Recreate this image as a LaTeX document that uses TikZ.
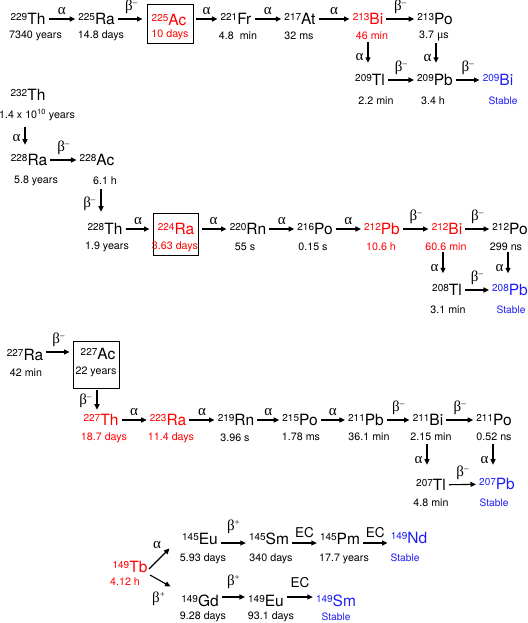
\documentclass[tikz,border=0pt]{standalone}
\usepackage{fontspec}
\setmainfont{TeX Gyre Heros}
\newfontfamily\grk{Liberation Serif}
\usetikzlibrary{arrows.meta}
\definecolor{nred}{RGB}{255,0,0}
\definecolor{nblue}{RGB}{30,30,245}
\newcommand{\nuc}[2]{\raisebox{4pt}{\fontsize{10}{10}\selectfont #1}#2}
\newcommand{\alp}{{\grk α}}
\newcommand{\betam}{{\grk β}\raisebox{5pt}{\fontsize{9}{9}\selectfont –}}
\newcommand{\betap}{{\grk β}\raisebox{5pt}{\fontsize{9}{9}\selectfont +}}
\begin{document}
\begin{tikzpicture}[x=1pt,y=-1pt,
  el/.style={font=\fontsize{15.5}{15.5}\selectfont, text height=11pt, text depth=0pt, inner sep=1pt},
  hl/.style={font=\fontsize{10.7}{11}\selectfont, inner sep=1pt},
  st/.style={font=\fontsize{10.2}{11}\selectfont, inner sep=1pt, text=nblue},
  rd/.style={text=nred},
  bl/.style={text=nblue},
  bx/.style={draw, line width=0.9pt, inner sep=0pt},
  arr/.style={line width=1.1pt, -{Triangle[length=5.5pt,width=5pt]}, shorten <=2pt, shorten >=2pt},
  darr/.style={line width=1.1pt, -{Triangle[length=5.5pt,width=5pt]}},
  lab/.style={font=\grk\fontsize{15}{15}\selectfont, inner sep=0pt},
  la/.style={lab, above=3.5pt},
  lb/.style={lab, above=4.5pt},
  lv/.style={lab, left=4pt},
  lbv/.style={lab, left=5pt},
  ec/.style={font=\fontsize{13.5}{13.5}\selectfont, inner sep=0pt, above=4.5pt},
]
\useasboundingbox (0,0) rectangle (527,623);

% ---------- chain 1 (229Th) ----------
\node[el] (th229) at (28,19) {\nuc{229}{Th}};
\node[hl] (hth229) at (35.5,36) {7340 years};
\node[el] (ra225) at (96.5,19) {\nuc{225}{Ra}};
\node[hl] (hra225) at (101,36) {14.8 days};
\node[bx, minimum width=46pt, minimum height=39pt] (bx1) at (170,23.5) {};
\node[el,rd] (ac225) at (169,20) {\nuc{225}{Ac}};
\node[hl,rd] (hac225) at (170,35) {10 days};
\node[el] (fr221) at (236,19) {\nuc{221}{Fr}};
\node[hl] (hfr221) at (238,36) {4.8\ \ min};
\node[el] (at217) at (300,19) {\nuc{217}{At}};
\node[hl] (hat217) at (299,36) {32 ms};
\node[el,rd] (bi213) at (368,19) {\nuc{213}{Bi}};
\node[hl,rd] (hbi213) at (372,36) {46 min};
\node[el] (po213) at (435,19) {\nuc{213}{Po}};
\node[hl] (hpo213) at (434,36) {3.7 {\grk\fontsize{12}{12}\selectfont μ}s};
\node[el] (tl209) at (370,80) {\nuc{209}{Tl}};
\node[hl] (htl209) at (376,101) {2.2 min};
\node[el] (pb209) at (435,80) {\nuc{209}{Pb}};
\node[hl] (hpb209) at (433,101) {3.4 h};
\node[el,bl] (bi209) at (498,80) {\nuc{209}{Bi}};
\node[st] (hbi209) at (503,101) {Stable};

\draw[arr] (th229) -- node[la]{\alp} (ra225);
\draw[arr,shorten >=4pt] (ra225.east) -- node[lb]{\betam} (bx1.west |- ra225.east);
\draw[arr,shorten <=3pt] (bx1.east |- fr221.west) -- node[la]{\alp} (fr221.west);
\draw[arr] (fr221) -- node[la]{\alp} (at217);
\draw[arr] (at217) -- node[la]{\alp} (bi213);
\draw[arr] (bi213) -- node[lb]{\betam} (po213);
\draw[darr,shorten <=0.5pt,shorten >=10.5pt] (bi213 |- hbi213.south) -- node[lv]{\alp} (bi213 |- tl209.north);
\draw[darr,shorten <=0.5pt,shorten >=10.5pt] ([xshift=1pt]po213 |- hpo213.south) -- node[lv]{\alp} ([xshift=1pt]po213 |- pb209.north);
\draw[arr] (tl209) -- node[lb]{\betam} (pb209);
\draw[arr] (pb209) -- node[lb]{\betam} (bi209);

% ---------- chain 2 (232Th) ----------
\node[el] (th232) at (28,95) {\nuc{232}{Th}};
\node[hl] (hth232) at (37,115) {1.4 x 10\textsuperscript{10} years};
\node[el] (ra228) at (29,160) {\nuc{228}{Ra}};
\node[hl] (hra228) at (36,181) {5.8 years};
\node[el] (ac228) at (97,160) {\nuc{228}{Ac}};
\node[hl] (hac228) at (105,181) {6.1 h};
\node[el] (th228) at (105,229) {\nuc{228}{Th}};
\node[hl] (hth228) at (107,247) {1.9 years};
\node[bx, minimum width=45pt, minimum height=42pt] (bx2) at (175.5,234) {};
\node[el,rd] (ra224) at (176,229) {\nuc{224}{Ra}};
\node[hl,rd] (hra224) at (175,247) {3.63 days};
\node[el] (rn220) at (248,229) {\nuc{220}{Rn}};
\node[hl] (hrn220) at (245,247) {55 s};
\node[el] (po216) at (315,229) {\nuc{216}{Po}};
\node[hl] (hpo216) at (313,247) {0.15 s};
\node[el,rd] (pb212) at (382,229) {\nuc{212}{Pb}};
\node[hl,rd] (hpb212) at (381,247) {10.6 h};
\node[el,rd] (bi212) at (447,229) {\nuc{212}{Bi}};
\node[hl,rd] (hbi212) at (446,247) {60.6 min};
\node[el] (po212) at (510,229) {\nuc{212}{Po}};
\node[hl] (hpo212) at (506,247) {299 ns};
\node[el] (tl208) at (447,290) {\nuc{208}{Tl}};
\node[hl] (htl208) at (448,310) {3.1 min};
\node[el,bl] (pb208) at (510,290) {\nuc{208}{Pb}};
\node[st] (hpb208) at (511,310) {Stable};

\draw[darr,shorten <=5pt,shorten >=8.6pt] ([xshift=-3pt]th232 |- hth232.south) -- node[lv]{\alp} ([xshift=-3pt]th232 |- ra228.north);
\draw[arr] (ra228) -- node[lb]{\betam} (ac228);
\draw[darr,shorten <=3pt,shorten >=10.6pt] ([xshift=4pt]ac228 |- hac228.south) -- node[lbv]{\betam} ([xshift=4pt]ac228 |- th228.north);
\draw[arr,shorten >=3pt] (th228.east) -- node[la]{\alp} (bx2.west |- th228.east);
\draw[arr,shorten <=4pt] (bx2.east |- rn220.west) -- node[la]{\alp} (rn220.west);
\draw[arr] (rn220) -- node[la]{\alp} (po216);
\draw[arr] (po216) -- node[la]{\alp} (pb212);
\draw[arr] (pb212) -- node[lb]{\betam} (bi212);
\draw[arr] (bi212) -- node[lb]{\betam} (po212);
\draw[darr,shorten <=0pt,shorten >=10pt] ([xshift=-4pt]bi212 |- hbi212.south) -- node[lv]{\alp} ([xshift=-4pt]bi212 |- tl208.north);
\draw[darr,shorten <=0pt,shorten >=10pt] ([xshift=-2pt]po212 |- hpo212.south) -- node[lv]{\alp} ([xshift=-2pt]po212 |- pb208.north);
\draw[arr] (tl208) -- node[lb]{\betam} (pb208);

% ---------- chain 3 (227Ac) ----------
\node[el] (ra227) at (25,355) {\nuc{227}{Ra}};
\node[hl] (hra227) at (26,373) {42 min};
\node[bx, minimum width=46pt, minimum height=47pt] (bx3) at (96,364.5) {};
\node[el] (ac227) at (98,354) {\nuc{227}{Ac}};
\node[hl] (hac227) at (96,372) {22 years};
\node[el,rd] (th227) at (101,420) {\nuc{227}{Th}};
\node[hl,rd] (hth227) at (104,438) {18.7 days};
\node[el,rd] (ra223) at (168,420) {\nuc{223}{Ra}};
\node[hl,rd] (hra223) at (171,438) {11.4 days};
\node[el] (rn219) at (236,420) {\nuc{219}{Rn}};
\node[hl] (hrn219) at (235,438) {3.96 s};
\node[el] (po215) at (300,420) {\nuc{215}{Po}};
\node[hl] (hpo215) at (301,437) {1.78 ms};
\node[el] (pb211) at (366,420) {\nuc{211}{Pb}};
\node[hl] (hpb211) at (369,437) {36.1 min};
\node[el] (bi211) at (428,420) {\nuc{211}{Bi}};
\node[hl] (hbi211) at (431,437) {2.15 min};
\node[el] (po211) at (494,420) {\nuc{211}{Po}};
\node[hl] (hpo211) at (494,437) {0.52 ns};
\node[el] (tl207) at (431,485) {\nuc{207}{Tl}};
\node[hl] (htl207) at (431,503) {4.8 min};
\node[el,bl] (pb207) at (497,484) {\nuc{207}{Pb}};
\node[st] (hpb207) at (494,503) {Stable};

\draw[arr,shorten >=3pt] ([yshift=3pt]ra227.east) -- node[lb]{\betam} ([yshift=3pt]bx3.west |- ra227.east);
\draw[darr,shorten <=1.5pt,shorten >=3.6pt] ([xshift=1pt]bx3.south) -- node[lbv]{\betam} ([xshift=1pt]bx3.south |- th227.north);
\draw[arr] (th227) -- node[la]{\alp} (ra223);
\draw[arr] (ra223) -- node[la]{\alp} (rn219);
\draw[arr] (rn219) -- node[la]{\alp} (po215);
\draw[arr] (po215) -- node[la]{\alp} (pb211);
\draw[arr] (pb211) -- node[lb]{\betam} (bi211);
\draw[arr] (bi211) -- node[lb]{\betam} (po211);
\draw[darr,shorten <=1.5pt,shorten >=13.6pt] ([xshift=-1pt]bi211 |- hbi211.south) -- node[lv]{\alp} ([xshift=-1pt]bi211 |- tl207.north);
\draw[darr,shorten <=1.5pt,shorten >=12.6pt] ([xshift=-1pt]po211 |- hpo211.south) -- node[lv]{\alp} ([xshift=-1pt]po211 |- pb207.north);
\draw[arr] (tl207) -- node[lb]{\betam} (pb207);

% ---------- chain 4 (149Tb) ----------
\node[el,rd] (tb149) at (130,567) {\nuc{149}{Tb}};
\node[hl,rd] (htb149) at (125,582) {4.12 h};
\node[el] (eu145) at (200,539) {\nuc{145}{Eu}};
\node[hl] (heu145) at (203,559) {5.93 days};
\node[el] (sm145) at (269,539) {\nuc{145}{Sm}};
\node[hl] (hsm145) at (271,559) {340 days};
\node[el] (pm145) at (340,539) {\nuc{145}{Pm}};
\node[hl] (hpm145) at (344,559) {17.7 years};
\node[el,bl] (nd149) at (409,538) {\nuc{149}{Nd}};
\node[st] (hnd149) at (405,558) {Stable};
\node[el] (gd149) at (200,601) {\nuc{149}{Gd}};
\node[hl] (hgd149) at (203,617) {9.28 days};
\node[el] (eu149) at (266,601) {\nuc{149}{Eu}};
\node[hl] (heu149) at (271,617) {93.1 days};
\node[el,bl] (sm149) at (336,601) {\nuc{149}{Sm}};
\node[st] (hsm149) at (336,617) {Stable};

\coordinate (d1s) at (149,569);
\coordinate (d1e) at (169.5,548.5);
\coordinate (d2s) at (150,575);
\coordinate (d2e) at (170.5,586.5);
\draw[darr] (d1s) -- (d1e) node[lab, pos=1, left=8pt, yshift=3pt]{\alp};
\draw[darr] (d2s) -- (d2e) node[lab, pos=1, anchor=north east, xshift=-5pt, yshift=-5pt]{\betap};

\draw[arr] ([yshift=-4pt]eu145.east) -- node[lb, above=4pt]{\betap} ([yshift=-4pt]sm145.west);
\draw[arr] ([yshift=-4pt]sm145.east) -- node[ec]{EC} ([yshift=-4pt]pm145.west);
\draw[arr] ([yshift=-4pt]pm145.east) -- node[ec]{EC} ([yshift=-4pt]nd149.west |- pm145.west);
\draw[arr] ([yshift=4pt]gd149.east) -- node[lb, above=3.5pt]{\betap} ([yshift=4pt]eu149.west);
\draw[arr] ([yshift=4pt]eu149.east) -- node[ec, above=4pt]{EC} ([yshift=4pt]sm149.west);
\end{tikzpicture}
\end{document}
